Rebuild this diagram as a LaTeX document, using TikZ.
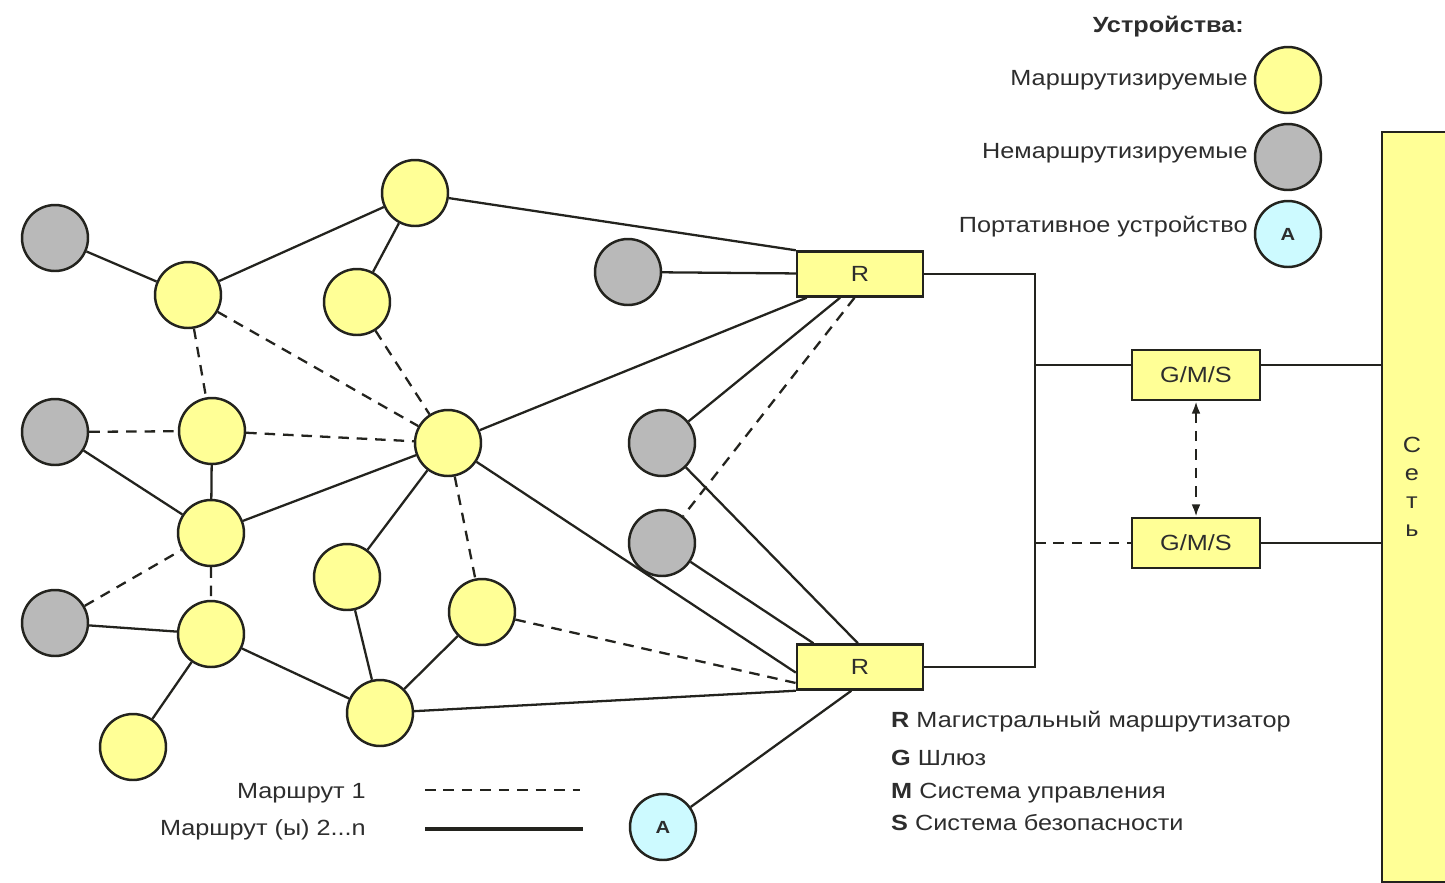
\documentclass[tikz,border=0pt]{standalone}
\usepackage{fontspec}
\setmainfont[FakeStretch=1.15]{Liberation Sans}
\usetikzlibrary{arrows.meta,positioning}

\definecolor{routed}{RGB}{255,255,150}
\definecolor{plain}{RGB}{185,185,185}
\definecolor{mobile}{RGB}{205,250,255}
\definecolor{txt}{RGB}{45,45,45}
\definecolor{edge}{RGB}{35,35,30}

\tikzset{
  dev/.style={circle, draw=edge, line width=1.4pt, minimum size=1.32cm, inner sep=0pt},
  ydev/.style={dev, fill=routed},
  gdev/.style={dev, fill=plain},
  adev/.style={dev, fill=mobile, font=\bfseries\fontsize{10}{12}\selectfont},
  rbox/.style={rectangle, draw=edge, line width=1.4pt, fill=routed, minimum width=2.52cm, minimum height=0.9cm, inner sep=0pt},
  gbox/.style={rbox, minimum width=2.56cm, minimum height=1cm},
  link/.style={draw=edge, line width=1.3pt},
  route/.style={link, dash pattern=on 6pt off 4.5pt},
  both/.style={{Latex[length=7pt,width=5pt]}-{Latex[length=7pt,width=5pt]}}
}

\begin{document}
\begin{tikzpicture}[x=0.02cm, y=-0.02cm, every node/.style={font=\fontsize{12.5}{15}\selectfont, text=txt}]
  \useasboundingbox (0,0) rectangle (1445,883);

  % Network
  \node[rbox, anchor=north west, minimum width=1.8cm, minimum height=15cm] (net) at (1381,131) {};
  \node[align=center, font=\fontsize{12.5}{16}\selectfont] (netlbl) at (1412,487) {С\\е\\т\\ь};

  % Devices
  \node[gdev] (g1) at (55,238) {};
  \node[ydev] (y1) at (188,295) {};
  \node[ydev] (y2) at (415,193) {};
  \node[ydev] (y3) at (357,302) {};
  \node[gdev] (g2) at (55,432) {};
  \node[ydev] (y4) at (212,431) {};
  \node[ydev] (y5) at (448,443) {};
  \node[ydev] (y6) at (211,533) {};
  \node[gdev] (g3) at (55,623) {};
  \node[ydev] (y7) at (211,634) {};
  \node[ydev] (y8) at (347,577) {};
  \node[ydev] (y9) at (482,612) {};
  \node[ydev] (y10) at (380,713) {};
  \node[ydev] (y11) at (133,747) {};
  \node[gdev] (g4) at (628,272) {};
  \node[gdev] (g5) at (662,443) {};
  \node[gdev] (g6) at (662,543) {};
  \node[adev] (p1) at (663,827) {A};

  % Routers and gateways
  \node[rbox] (r1) at (860,274) {R};
  \node[rbox] (r2) at (860,667) {R};
  \node[gbox] (gms1) at (1196,375) {G/M/S};
  \node[gbox] (gms2) at (1196,543) {G/M/S};

  % Route 2...n
  \draw[link] (g1) -- (y1)  (y1) -- (y2)  (y2) -- (y3)  (y2) -- (r1.north west)
    (g4) -- (r1)  (y5) -- (r1.204)  (g5) -- (r1.230)
    (g2) -- (y6)  (y4) -- (y6)  (y6) -- (y5)  (y5) -- (y8)
    (y5) -- (r2.185)  (g6) -- (r2.153)  (g5) -- (r2.95)
    (y8) -- (y10)  (y9) -- (y10)  (y7) -- (y10)  (g3) -- (y7)  (y7) -- (y11)
    (y10) -- (r2.south west)  (p1) -- (r2.250);

  % Route 1
  \draw[route] (y1) -- (y4)  (y1) -- (y5)  (y3) -- (y5)  (g2) -- (y4)  (y4) -- (y5)
    (g3) -- (y6)  (y6) -- (y7)  (y5) -- (y9)  (y9) -- (r2.194)  (r1.257) -- (g6);

  % Backbone
  \coordinate (bust) at (1035,274);
  \coordinate (busb) at (1035,667);
  \coordinate (busg1) at (1035,365);
  \coordinate (busg2) at (1035,543);
  \draw[link] (r1) -- (bust) -- (busb) -- (r2);
  \draw[link] (busg1) -- (busg1 -| gms1.west);
  \draw[link] (gms1.east |- busg1) -- (busg1 -| net.west);
  \draw[route] (busg2) -- (busg2 -| gms2.west);
  \draw[link] (gms2.east |- busg2) -- (busg2 -| net.west);
  \draw[route, both] (gms1) -- (gms2);

  % Device legend
  \node[anchor=east, font=\bfseries\fontsize{12.5}{15}\selectfont] (devhead) at (1250,27) {Устройства:};
  \node[ydev] (ly) at (1288,80) {};
  \node[gdev] (lg) at (1288,157) {};
  \node[adev] (la) at (1288,234) {A};
  \node[left=0pt of ly] (lyt) {Маршрутизируемые};
  \node[left=0pt of lg, yshift=2pt] (lgt) {Немаршрутизируемые};
  \node[left=0pt of la, yshift=4pt] (lat) {Портативное устройство};

  % Route legend
  \node[anchor=east] (leg1) at (372,793) {Маршрут 1};
  \node[anchor=east] (leg2) at (372,830) {Маршрут (ы) 2...n};
  \coordinate (l1a) at (425,790);
  \coordinate (l1b) at (580,790);
  \coordinate (l2a) at (425,829);
  \coordinate (l2b) at (583,829);
  \draw[route] (l1a) -- (l1b);
  \draw[link, line width=1.8pt] (l2a) -- (l2b);

  % Abbreviations
  \node[anchor=west] (keyr) at (885,722) {\textbf{R} Магистральный маршрутизатор};
  \node[anchor=west] (keyg) at (885,758) {\textbf{G} Шлюз};
  \node[anchor=west] (keym) at (885,793) {\textbf{M} Система управления};
  \node[anchor=west] (keys) at (885,823) {\textbf{S} Система безопасности};
\end{tikzpicture}
\end{document}
